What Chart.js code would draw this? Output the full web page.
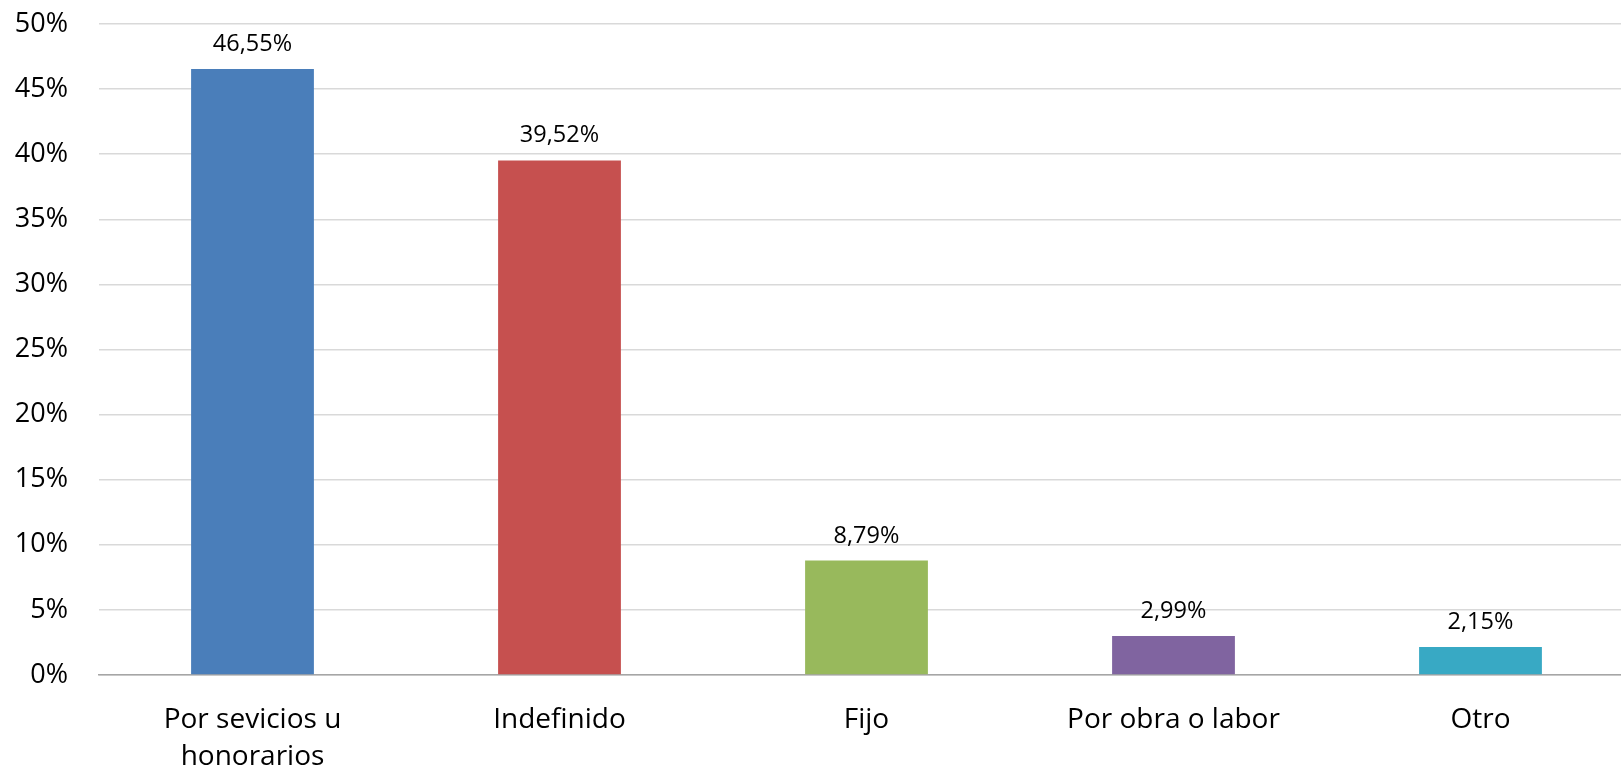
<!DOCTYPE html>
<html>
<head>
<meta charset="utf-8">
<script src="https://cdn.jsdelivr.net/npm/chart.js@4.4.1/dist/chart.umd.min.js"></script>
<style>
  html, body { margin: 0; padding: 0; background: #fff; overflow: hidden; }
  #wrap { width: 1640px; height: 769px; position: relative; }
</style>
</head>
<body>
<div id="wrap"><canvas id="barChart"></canvas></div>
<script>
// chart data
const categories = [['Por sevicios u', 'honorarios'], 'Indefinido', 'Fijo', 'Por obra o labor', 'Otro'];
const values = [46.55, 39.52, 8.79, 2.99, 2.15];
const barColors = ['#4a7eba', '#c6504f', '#98b95c', '#8064a0', '#38a9c4'];
const yTicks = [0, 5, 10, 15, 20, 25, 30, 35, 40, 45, 50];

const FONT = '"Open Sans", Lato, sans-serif';

// draws the value above each bar, comma as decimal separator
const valueLabels = {
    id: 'valueLabels',
    afterDatasetsDraw(chart) {
        const ctx = chart.ctx;
        const meta = chart.getDatasetMeta(0);
        ctx.save();
        ctx.font = '23.5px ' + FONT;
        ctx.fillStyle = '#000';
        ctx.textAlign = 'center';
        ctx.textBaseline = 'alphabetic';
        meta.data.forEach(function(bar, i) {
            const txt = values[i].toFixed(2).replace('.', ',') + '%';
            ctx.fillText(txt, bar.x, bar.y - 18);
        });
        ctx.restore();
    }
};

const ctx = document.getElementById('barChart').getContext('2d');
new Chart(ctx, {
    type: 'bar',
    data: {
        labels: categories,
        datasets: [{
            data: values,
            backgroundColor: barColors,
            barPercentage: 0.4,
            categoryPercentage: 1.0
        }]
    },
    options: {
        responsive: true,
        maintainAspectRatio: false,
        animation: false,
        layout: { padding: { top: 24, right: 6, left: 0, bottom: 0 } },
        plugins: {
            legend: { display: false },
            tooltip: { enabled: false }
        },
        scales: {
            x: {
                grid: { display: false, drawTicks: false },
                border: { display: true, color: '#a6a6a6', width: 1.5 },
                ticks: {
                    color: '#000',
                    padding: 26,
                    maxRotation: 0,
                    autoSkip: false,
                    font: { family: FONT, size: 28, lineHeight: 1.33 }
                },
                afterFit: function(scale) { scale.height = 94; }
            },
            y: {
                min: 0,
                max: 50,
                afterBuildTicks: function(scale) {
                    scale.ticks = yTicks.map(function(v) { return { value: v }; });
                },
                grid: { color: '#d9d9d9', lineWidth: 1.5, drawTicks: false },
                border: { display: false },
                ticks: {
                    color: '#000',
                    padding: 31,
                    font: { family: FONT, size: 27 },
                    callback: function(v) { return v + '%'; }
                },
                afterFit: function(scale) {
                    scale.width = 99;
                    // tick padding would otherwise be added above/below the plot
                    scale.paddingTop = 0;
                    scale.paddingBottom = 0;
                }
            }
        }
    },
    plugins: [valueLabels]
});
</script>
</body>
</html>
